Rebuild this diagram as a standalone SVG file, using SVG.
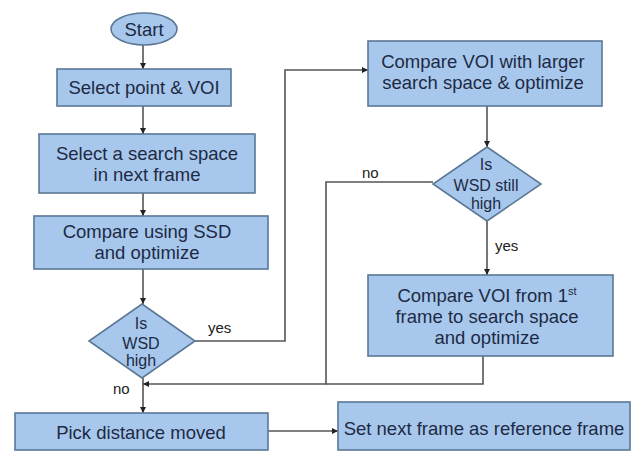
<svg xmlns="http://www.w3.org/2000/svg" width="636" height="452" viewBox="0 0 636 452">
  <defs>
    <marker id="arrow" viewBox="0 0 6 6" refX="6" refY="3" markerWidth="6" markerHeight="6" markerUnits="userSpaceOnUse" orient="auto">
      <path d="M0,0 L6,3 L0,6 z" fill="#222"/>
    </marker>
    <style>
      .box { fill: #a7c8ec; stroke: #5b7796; stroke-width: 1.6; }
      .txt { font-family: "Liberation Sans", Arial, sans-serif; font-size: 18.5px; fill: #1e2a44; text-anchor: middle; }
      .dtxt { font-family: "Liberation Sans", Arial, sans-serif; font-size: 16px; fill: #1e2a44; text-anchor: middle; }
      .lbl { font-family: "Liberation Sans", Arial, sans-serif; font-size: 15px; fill: #222; }
      .conn { fill: none; stroke: #555; stroke-width: 1.6; }
    </style>
  </defs>
  <rect width="636" height="452" fill="#ffffff"/>

  <g id="connectors">
    <path class="conn" d="M143,45 V69" marker-end="url(#arrow)"/>
    <path class="conn" d="M143,106 V134" marker-end="url(#arrow)"/>
    <path class="conn" d="M143,193 V216" marker-end="url(#arrow)"/>
    <path class="conn" d="M143,269 V304" marker-end="url(#arrow)"/>
    <path class="conn" d="M143,378 V413" marker-end="url(#arrow)"/>
    <path class="conn" d="M195,341 H285 V70 H368" marker-end="url(#arrow)"/>
    <path class="conn" d="M487,106 V147" marker-end="url(#arrow)"/>
    <path class="conn" d="M487,221 V275" marker-end="url(#arrow)"/>
    <path class="conn" d="M433,182 H326 V384 H143" marker-end="url(#arrow)"/>
    <path class="conn" d="M483,356 V384 H326"/>
    <path class="conn" d="M268,431 H338" marker-end="url(#arrow)"/>
    <text class="lbl" x="208" y="333">yes</text>
    <text class="lbl" x="362" y="178">no</text>
    <text class="lbl" x="495" y="251">yes</text>
    <text class="lbl" x="113" y="394">no</text>
  </g>

  <g id="start">
    <ellipse class="box" cx="144" cy="29" rx="33" ry="16"/>
    <text class="txt" x="144" y="36" font-size="18">Start</text>
  </g>

  <g id="select-point">
    <rect class="box" x="57" y="69" width="174" height="37"/>
    <text class="txt" x="144" y="94">Select point &amp; VOI</text>
  </g>

  <g id="select-search-space">
    <rect class="box" x="39" y="134" width="216" height="59"/>
    <text class="txt" x="147" y="160">Select a search space</text>
    <text class="txt" x="147" y="181">in next frame</text>
  </g>

  <g id="compare-ssd">
    <rect class="box" x="34" y="216" width="234" height="53"/>
    <text class="txt" x="147" y="238">Compare using SSD</text>
    <text class="txt" x="147" y="259">and optimize</text>
  </g>

  <g id="decision-wsd-high">
    <polygon class="box" points="142,304 195,341 142,378 89,341"/>
    <text class="dtxt" x="141" y="329">Is</text>
    <text class="dtxt" x="141" y="349">WSD</text>
    <text class="dtxt" x="141" y="366">high</text>
  </g>

  <g id="pick-distance">
    <rect class="box" x="15" y="413" width="253" height="37"/>
    <text class="txt" x="141" y="439">Pick distance moved</text>
  </g>

  <g id="compare-larger">
    <rect class="box" x="368" y="41" width="234" height="65"/>
    <text class="txt" x="483" y="68">Compare VOI with larger</text>
    <text class="txt" x="483" y="89">search space &amp; optimize</text>
  </g>

  <g id="decision-wsd-still-high">
    <polygon class="box" points="487,147 541,184 487,221 433,184"/>
    <text class="dtxt" x="486" y="170">Is</text>
    <text class="dtxt" x="486" y="191">WSD still</text>
    <text class="dtxt" x="486" y="209">high</text>
  </g>

  <g id="compare-first-frame">
    <rect class="box" x="368" y="275" width="245" height="81"/>
    <text class="txt" x="487" y="302">Compare VOI from 1<tspan font-size="11" dy="-7">st</tspan></text>
    <text class="txt" x="487" y="323">frame to search space</text>
    <text class="txt" x="487" y="344">and optimize</text>
  </g>

  <g id="set-reference">
    <rect class="box" x="338" y="402" width="292" height="48"/>
    <text class="txt" x="484" y="435">Set next frame as reference frame</text>
  </g>
</svg>
